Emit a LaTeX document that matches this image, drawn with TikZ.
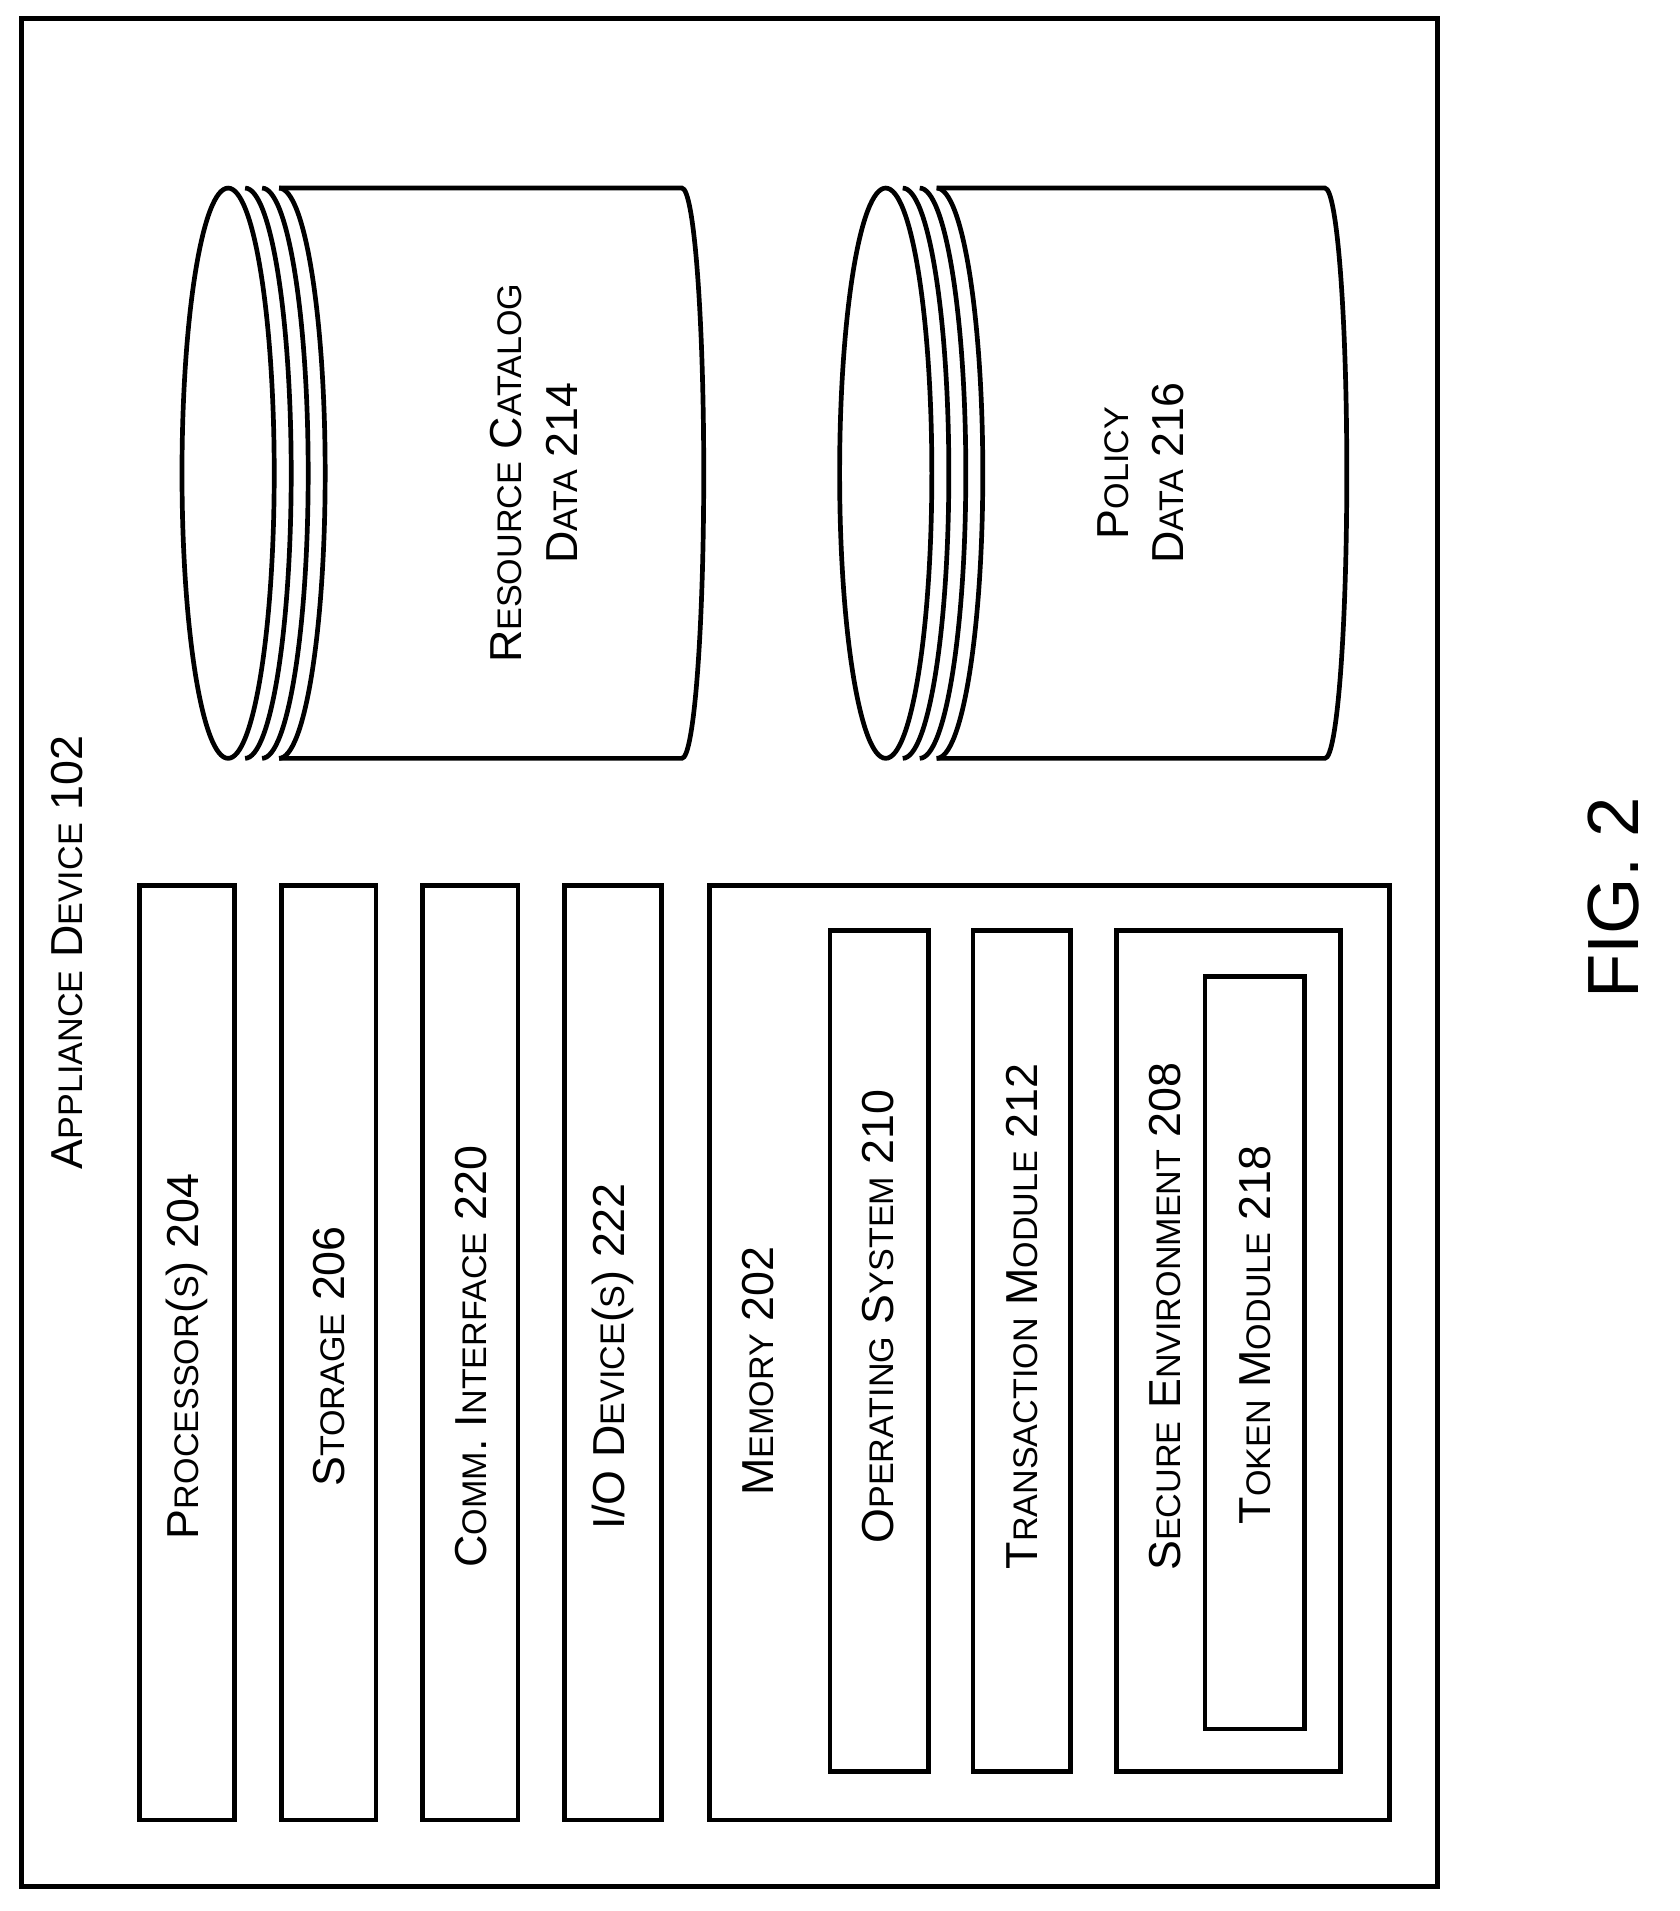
\documentclass[tikz,border=0pt]{standalone}
\usepackage{fontspec}
\setmainfont{Liberation Sans}
\newcommand\sm[1]{{\fontsize{8pt}{10pt}\selectfont #1}}
\begin{document}
\begin{tikzpicture}[x=0.01cm,y=-0.01cm,line width=1.1pt,
  lbl/.style={rotate=90,font=\fontsize{10.5pt}{13pt}\selectfont,align=center,inner sep=0pt}]
\useasboundingbox (0,0) rectangle (1384,1575);
\draw (18,15) rectangle (1185,1555);
\node[lbl] (title) at (55,785) {A\sm{PPLIANCE} D\sm{EVICE} 102};
% bars
\draw (115,730) rectangle (193,1500);
\node[lbl] (proc) at (154,1118) {P\sm{ROCESSOR}(\sm{S}) 204};
\draw (232,730) rectangle (310,1500);
\node[lbl] (stor) at (271,1118) {S\sm{TORAGE} 206};
\draw (348,730) rectangle (427,1500);
\node[lbl] (comm) at (388,1118) {C\sm{OMM}. I\sm{NTERFACE} 220};
\draw (465,730) rectangle (545,1500);
\node[lbl] (io) at (505,1118) {I/O D\sm{EVICE}(\sm{S}) 222};
\draw (585,730) rectangle (1145,1500);
\node[lbl] (mem) at (625,1130) {M\sm{EMORY} 202};
\draw (684,767) rectangle (765,1460);
\node[lbl] (os) at (724,1085) {O\sm{PERATING} S\sm{YSTEM} 210};
\draw (802,767) rectangle (882,1460);
\node[lbl] (tm) at (842,1085) {T\sm{RANSACTION} M\sm{ODULE} 212};
\draw (920,767) rectangle (1105,1460);
\node[lbl] (se) at (960,1085) {S\sm{ECURE} E\sm{NVIRONMENT} 208};
\draw (993,805) rectangle (1075,1425);
\node[lbl] (tok) at (1034,1100) {T\sm{OKEN} M\sm{ODULE} 218};
% cylinders
\foreach \cx/\ex in {188/580, 730/1110}{
  \draw (\cx,390) ellipse [x radius=38,y radius=235];
  \foreach \d in {14,28,42}
    \draw (\cx+\d,155) arc[start angle=-90,end angle=90,x radius=38,y radius=235];
  \draw (\cx+42,155) -- (\ex-18,155) arc[start angle=-90,end angle=90,x radius=18,y radius=235] -- (\cx+42,625);
}
\node[lbl] (rc) at (440,390) {R\sm{ESOURCE} C\sm{ATALOG}\\D\sm{ATA} 214};
\node[lbl] (pd) at (940,390) {P\sm{OLICY}\\D\sm{ATA} 216};
\node[lbl,font=\fontsize{17pt}{20pt}\selectfont] (fig) at (1330,740) {FIG. 2};
\end{tikzpicture}
\end{document}
